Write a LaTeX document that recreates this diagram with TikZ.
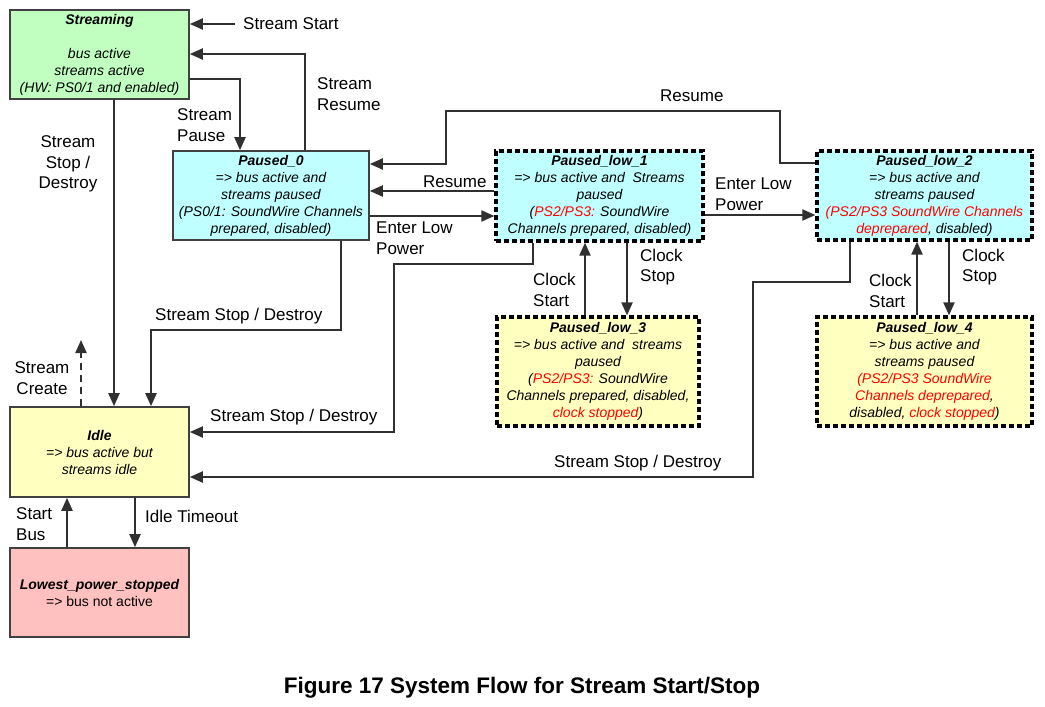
\documentclass[tikz,border=0pt]{standalone}
\usepackage{fontspec}
\setmainfont{Liberation Sans}
\usetikzlibrary{arrows.meta}
\definecolor{cgreen}{HTML}{C0FFC0}
\definecolor{ccyan}{HTML}{C0FFFF}
\definecolor{cyell}{HTML}{FFFFC0}
\definecolor{cpink}{HTML}{FFC0C0}
\definecolor{cred}{HTML}{FF0000}
\definecolor{cline}{HTML}{303030}
\definecolor{cbord}{HTML}{404040}
\newcommand{\rd}[1]{\textcolor{cred}{#1}}
\tikzset{
  statebox/.style={draw=cbord, line width=1.6pt, align=center, inner sep=0pt,
    font=\fontsize{14}{17}\selectfont\itshape, text=black},
  lowbox/.style={statebox, draw=black, line width=3.2pt, dash pattern=on 5pt off 3pt},
  lbl/.style={font=\fontsize{17}{20.5}\selectfont, inner sep=0pt, align=left, text=black},
  arr/.style={draw=cline, line width=2pt, -{Triangle[length=13pt,width=11pt]}},
}
\begin{document}
\begin{tikzpicture}[x=1pt,y=-1pt]
\useasboundingbox (0,0) rectangle (1045,707);
% states
\node[statebox, fill=cgreen, minimum width=179, minimum height=89] (Streaming) at (99.5,54.5)
  {\textbf{Streaming}\\ \mbox{}\\ bus active\\ streams active\\ (HW: PS0/1 and enabled)};
\node[statebox, fill=ccyan, minimum width=196, minimum height=89] (Paused0) at (271,195.5)
  {\textbf{Paused\_0}\\ => bus active and\\ streams paused\\ (PS0/1: SoundWire Channels\\ prepared, disabled)};
\node[lowbox, fill=ccyan, minimum width=207, minimum height=90] (PL1) at (599.5,196)
  {\textbf{Paused\_low\_1}\\ => bus active and\ \ Streams\\ paused\\ (\rd{PS2/PS3:} SoundWire\\ Channels prepared, disabled)};
\node[lowbox, fill=ccyan, minimum width=215, minimum height=89] (PL2) at (924.5,195.5)
  {\textbf{Paused\_low\_2}\\ => bus active and\\ streams paused\\ \rd{(PS2/PS3 SoundWire Channels}\\ \rd{deprepared}, disabled)};
\node[lowbox, fill=cyell, minimum width=202, minimum height=109] (PL3) at (598,371.5)
  {\textbf{Paused\_low\_3}\\ => bus active and\ \ streams\\ paused\\ (\rd{PS2/PS3:} SoundWire\\ Channels prepared, disabled,\\ \rd{clock stopped})};
\node[lowbox, fill=cyell, minimum width=215, minimum height=109] (PL4) at (924.5,371.5)
  {\textbf{Paused\_low\_4}\\ => bus active and\\ streams paused\\ \rd{(PS2/PS3 SoundWire}\\ \rd{Channels deprepared},\\ disabled, \rd{clock stopped})};
\node[statebox, fill=cyell, minimum width=179, minimum height=90] (Idle) at (99.5,452)
  {\textbf{Idle}\\ => bus active but\\ streams idle};
\node[statebox, fill=cpink, minimum width=179, minimum height=89] (Lowest) at (99.5,592.5)
  {\textbf{Lowest\_power\_stopped}\\ \upshape => bus not active};
% labels
\node[lbl, anchor=west] (lStart) at (243,24) {Stream Start};
\node[lbl, anchor=west] (lPause) at (177,125) {Stream\\Pause};
\node[lbl, anchor=west] (lResume) at (317,94) {Stream\\Resume};
\node[lbl, align=center] (lStop) at (68,164) {Stream\\Stop /\\Destroy};
\node[lbl, anchor=west] (lStop0) at (155,316) {Stream Stop / Destroy};
\node[lbl, align=center] (lCreate) at (42,378) {Stream\\Create};
\node[lbl, anchor=west] (lStop1) at (210,417) {Stream Stop / Destroy};
\node[lbl, anchor=west] (lStop2) at (554,463) {Stream Stop / Destroy};
\node[lbl, anchor=west] (lRes1) at (423,182) {Resume};
\node[lbl, anchor=west] (lRes2) at (660,96) {Resume};
\node[lbl, anchor=west] (lELP1) at (376,238) {Enter Low\\Power};
\node[lbl, anchor=west] (lELP2) at (715,194) {Enter Low\\Power};
\node[lbl, anchor=west] (lCS1) at (533,290) {Clock\\Start};
\node[lbl, anchor=west] (lCP1) at (640,267) {Clock\\Stop};
\node[lbl, anchor=west] (lCS2) at (869,291) {Clock\\Start};
\node[lbl, anchor=west] (lCP2) at (962,267) {Clock\\Stop};
\node[lbl, anchor=west] (lBus) at (16,524) {Start\\Bus};
\node[lbl, anchor=west] (lTimeout) at (145,516) {Idle Timeout};
\node[font=\fontsize{22.5}{27}\selectfont\bfseries, inner sep=0pt] (title) at (522,688)
  {Figure 17 System Flow for Stream Start/Stop};
% free ends
\coordinate (ssrc) at (235,24);
\coordinate (screate) at (81,340);
% connectors
\draw[arr] (ssrc) -- (Streaming.east |- ssrc);
\draw[arr] (Streaming.east |- 0,79) -| (240,0 |- Paused0.north);
\draw[arr] (305,0 |- Paused0.north) |- (Streaming.east |- 0,54);
\draw[arr] (114,0 |- Streaming.south) -- (114,0 |- Idle.north);
\draw[arr] (341,0 |- Paused0.south) |- (151,330) -- (151,0 |- Idle.north);
\draw[arr, dash pattern=on 7pt off 5pt] (81,0 |- Idle.north) -- (screate);
\draw[arr] (533,0 |- PL1.south) |- (394,264) |- (Idle.east |- 0,432);
\draw[arr] (850,0 |- PL2.south) |- (753,282) |- (Idle.east |- 0,477);
\draw[arr] (PL1.west |- 0,191) -- (Paused0.east |- 0,191);
\draw[arr] (PL2.west |- 0,163) -| (780,111) -| (446,164) -- (Paused0.east |- 0,164);
\draw[arr] (Paused0.east |- 0,216) -- (PL1.west |- 0,216);
\draw[arr] (PL1.east |- 0,215) -- (PL2.west |- 0,215);
\draw[arr] (585,0 |- PL3.north) -- (585,0 |- PL1.south);
\draw[arr] (627,0 |- PL1.south) -- (627,0 |- PL3.north);
\draw[arr] (917,0 |- PL4.north) -- (917,0 |- PL2.south);
\draw[arr] (949,0 |- PL2.south) -- (949,0 |- PL4.north);
\draw[arr] (67,0 |- Lowest.north) -- (67,0 |- Idle.south);
\draw[arr] (135,0 |- Idle.south) -- (135,0 |- Lowest.north);
\end{tikzpicture}
\end{document}
